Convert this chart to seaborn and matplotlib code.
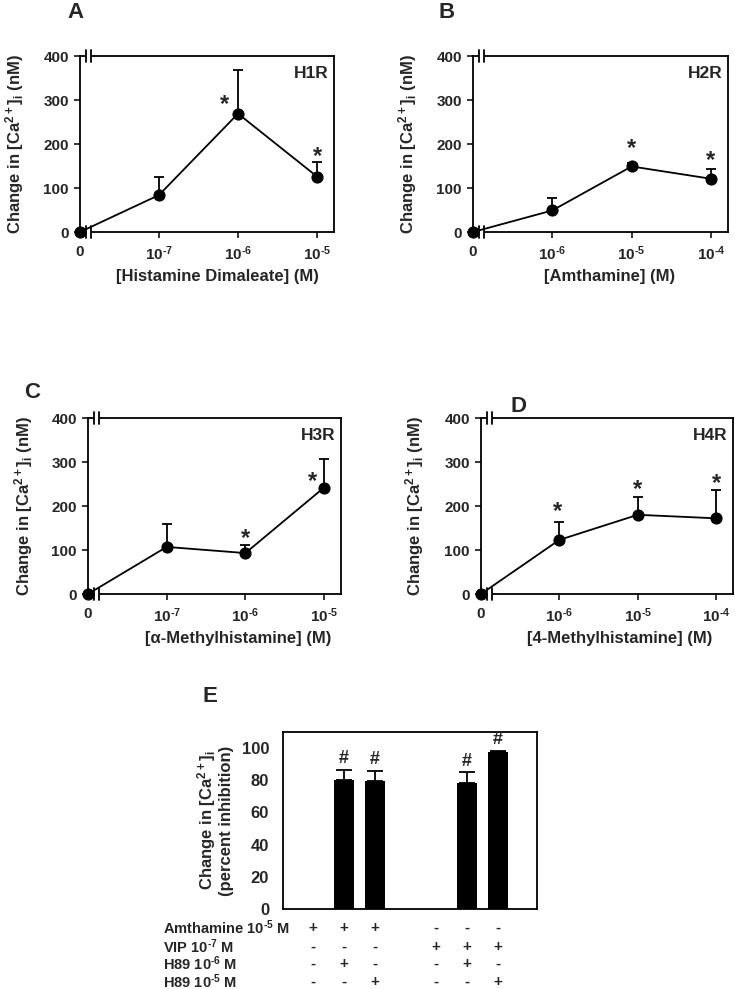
import matplotlib
matplotlib.use("Agg")
import matplotlib.pyplot as plt
from matplotlib.patches import Rectangle
import seaborn as sns

sns.set_style("white")
plt.rcParams["font.family"] = ["Liberation Sans", "DejaVu Sans"]
plt.rcParams["font.weight"] = "bold"
plt.rcParams["mathtext.fontset"] = "custom"
plt.rcParams["mathtext.rm"] = "Liberation Sans:bold"
plt.rcParams["mathtext.bf"] = "Liberation Sans:bold"
plt.rcParams["mathtext.it"] = "Liberation Sans:bold"
plt.rcParams["mathtext.default"] = "rm"

# dose-response data (nM change in [Ca2+]i), first point = 0 concentration
a_ticks = ["0", r"10$^{\text{-7}}$", r"10$^{\text{-6}}$", r"10$^{\text{-5}}$"]
a_vals = [0, 84, 269, 126]
a_errs = [0, 40, 100, 32]

b_ticks = ["0", r"10$^{\text{-6}}$", r"10$^{\text{-5}}$", r"10$^{\text{-4}}$"]
b_vals = [0, 49, 149, 121]
b_errs = [0, 29, 7, 23]

c_ticks = ["0", r"10$^{\text{-7}}$", r"10$^{\text{-6}}$", r"10$^{\text{-5}}$"]
c_vals = [0, 107, 93, 242]
c_errs = [0, 53, 18, 64]

d_ticks = ["0", r"10$^{\text{-6}}$", r"10$^{\text{-5}}$", r"10$^{\text{-4}}$"]
d_vals = [0, 123, 180, 172]
d_errs = [0, 40, 40, 64]

# panel E: percent inhibition
e_pos = [0, 1, 2, 4, 5, 6]
e_vals = [0, 80, 79.5, 0, 78, 97.5]
e_errs = [0, 6.5, 6.5, 0, 7, 1]
e_rows = [r"Amthamine 10$^{\text{-5}}$ M", r"VIP 10$^{\text{-7}}$ M",
          r"H89 10$^{\text{-6}}$ M", r"H89 10$^{\text{-5}}$ M"]
e_signs = [
    ["+", "+", "+", "-", "-", "-"],
    ["-", "-", "-", "+", "+", "+"],
    ["-", "+", "-", "-", "+", "-"],
    ["-", "-", "+", "-", "-", "+"],
]

W, H = 735, 989
fig = plt.figure(figsize=(W / 100, H / 100), dpi=100)


def px_axes(left, top, right, bottom):
    return fig.add_axes([left / W, 1 - bottom / H, (right - left) / W, (bottom - top) / H])


def style_box(ax):
    for s in ax.spines.values():
        s.set_visible(True)
        s.set_color("black")
        s.set_linewidth(1.3)
    ax.tick_params(length=0, labelsize=11)
    for lab in ax.get_xticklabels() + ax.get_yticklabels():
        lab.set_fontweight("bold")


def axis_break(ax, x0=0.075, x1=0.14):
    tr = ax.get_xaxis_transform()
    for yc in (0.0, 1.0):
        ax.add_patch(Rectangle((x0, yc - 0.035), x1 - x0, 0.07, transform=tr,
                               facecolor="white", edgecolor="none", clip_on=False, zorder=4))
        for xb in (x0, x1):
            ax.plot([xb, xb], [yc - 0.035, yc + 0.035], transform=tr, color="black",
                    lw=1.3, clip_on=False, zorder=5)


def line_panel(ax, vals, errs, ticks, tag, stars, xlabel, xlab_x, ylab_x):
    xs = [0, 1, 2, 3]
    sns.lineplot(x=xs, y=vals, color="black", lw=1.3, marker="o", markersize=8,
                 markeredgecolor="black", ax=ax, clip_on=False, zorder=6)
    ax.errorbar(xs[1:], vals[1:], yerr=[[0] * 3, errs[1:]], fmt="none", ecolor="black",
                elinewidth=1.3, capsize=3.5, capthick=1.3, zorder=3)
    ax.set_xlim(0, 3.215)
    ax.set_ylim(0, 400)
    ax.set_xticks(xs)
    ax.set_xticklabels(ticks)
    ax.set_yticks([0, 100, 200, 300, 400])
    style_box(ax)
    ax.tick_params(axis="x", bottom=True, length=4, width=1.3, pad=5, labelsize=11)
    ax.tick_params(axis="y", left=True, length=4, width=1.3, pad=4, labelsize=11)
    axis_break(ax)
    ax.text(0.98, 0.9, tag, transform=ax.transAxes, ha="right", va="center",
            fontsize=12.5, fontweight="bold")
    for sx, sy in stars:
        ax.text(sx, sy, "*", ha="center", va="center", fontsize=17, fontweight="bold")
    ax.text(xlab_x, -0.255, xlabel, transform=ax.transAxes, ha="center", va="center",
            fontsize=12, fontweight="bold")
    ax.text(ylab_x, 0.5, "Change in [Ca$^{2+}$]$_{i}$ (nM)", transform=ax.transAxes,
            rotation=90, ha="center", va="center", fontsize=12, fontweight="bold")


ax_a = px_axes(80, 56, 334, 232)
line_panel(ax_a, a_vals, a_errs, a_ticks, "H1R", [(1.83, 290), (3.0, 172)],
           "[Histamine Dimaleate] (M)", 0.543, -0.256)
ax_b = px_axes(473, 56, 728, 232)
line_panel(ax_b, b_vals, b_errs, b_ticks, "H2R", [(2.0, 190), (3.0, 162)],
           "[Amthamine] (M)", 0.537, -0.255)
ax_c = px_axes(88, 418, 341, 594)
line_panel(ax_c, c_vals, c_errs, c_ticks, "H3R", [(2.0, 126), (2.85, 255)],
           "[α-Methylhistamine] (M)", 0.593, -0.253)
ax_d = px_axes(481, 418, 733, 594)
line_panel(ax_d, d_vals, d_errs, d_ticks, "H4R", [(0.98, 187), (2.0, 237), (3.0, 251)],
           "[4-Methylhistamine] (M)", 0.55, -0.262)

# panel E
ax_e = px_axes(283, 732, 537, 909)
sns.barplot(x=e_pos, y=e_vals, native_scale=True, color="black", saturation=1,
            width=0.65, errorbar=None, linewidth=0, ax=ax_e)
err_x = [p for p, e in zip(e_pos, e_errs) if e > 0]
err_y = [v for v, e in zip(e_vals, e_errs) if e > 0]
err_e = [e for e in e_errs if e > 0]
ax_e.errorbar(err_x, err_y, yerr=[[0] * len(err_e), err_e], fmt="none", ecolor="black",
              elinewidth=1.3, capsize=6, capthick=1.3)
for p, v, e in zip(e_pos, e_vals, e_errs):
    if e > 0:
        ax_e.text(p, v + e + 1.5, "#", ha="center", va="bottom", fontsize=13, fontweight="bold")
ax_e.set_xlim(-0.97, 7.27)
ax_e.set_ylim(0, 110)
ax_e.set_yticks([0, 20, 40, 60, 80, 100])
ax_e.set_xticks([])
style_box(ax_e)
ax_e.tick_params(axis="y", pad=10, labelsize=12)
ax_e.text(-0.27, 0.5, "Change in [Ca$^{2+}$]$_{i}$\n(percent inhibition)", transform=ax_e.transAxes,
          rotation=90, ha="center", va="center", fontsize=12, fontweight="bold",
          linespacing=1.1)
row_y = [-0.107, -0.215, -0.311, -0.41]
xtr = ax_e.get_xaxis_transform()
for ry, name, signs in zip(row_y, e_rows, e_signs):
    fig.text(163 / W, 1 - (909 - ry * 177) / H, name, ha="left", va="center",
             fontsize=10.5, fontweight="bold")
    for p, s in zip(e_pos, signs):
        ax_e.text(p, ry, s, transform=xtr, ha="center", va="center", fontsize=11,
                  fontweight="bold", clip_on=False)

# panel letters
for lx, ly, lt in [(75, 12, "A"), (447, 12, "B"), (32, 393, "C"), (519, 407, "D"), (210, 697, "E")]:
    fig.text(lx / W, 1 - ly / H, lt, ha="center", va="center", fontsize=16, fontweight="bold")

fig.savefig("out.png", dpi=100)
